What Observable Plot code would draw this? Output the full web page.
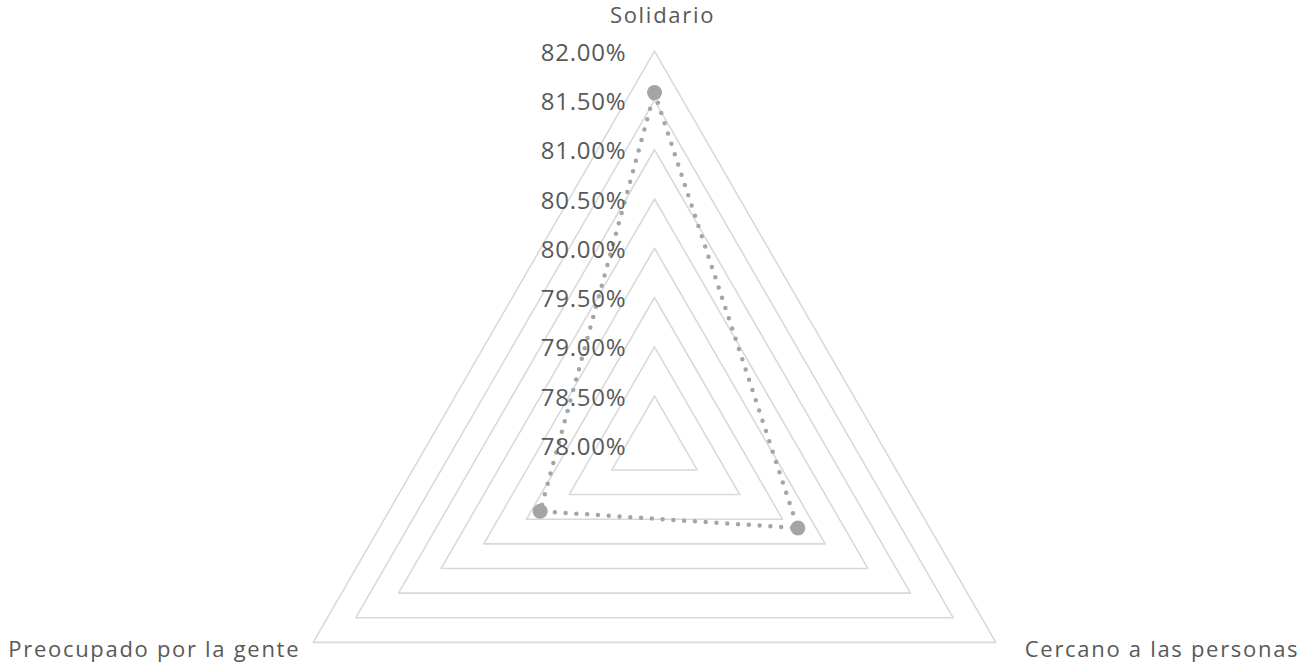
<!DOCTYPE html>
<html>
<head>
<meta charset="utf-8">
<script src="https://cdn.jsdelivr.net/npm/d3@7"></script>
<script src="https://cdn.jsdelivr.net/npm/@observablehq/plot@0.6"></script>
<style>
  html, body { margin: 0; padding: 0; background: #ffffff; }
  #chart svg { display: block; }
</style>
</head>
<body>
<div id="chart"></div>
<script>
// ---- data ----
const categories = ["Solidario", "Cercano a las personas", "Preocupado por la gente"];
const values = [81.58, 79.68, 79.34];
const tickValues = [78.0, 78.5, 79.0, 79.5, 80.0, 80.5, 81.0, 81.5, 82.0];
const tickLabels = ["78.00%", "78.50%", "79.00%", "79.50%", "80.00%", "80.50%", "81.00%", "81.50%", "82.00%"];

// ---- geometry helpers ----
const rScale = d3.scaleLinear().domain([78, 82]).range([0, 1]);
const angleOf = i => (i * 2 * Math.PI) / categories.length; // clockwise from top
const px = (v, i) => rScale(v) * Math.sin(angleOf(i));
const py = (v, i) => rScale(v) * Math.cos(angleOf(i));

// grid polygons (closed)
const grid = [];
tickValues.slice(1).forEach(t => {
  for (let k = 0; k <= categories.length; k++) {
    const i = k % categories.length;
    grid.push({level: t, x: px(t, i), y: py(t, i)});
  }
});

// series polygon (closed)
const series = [];
for (let k = 0; k <= categories.length; k++) {
  const i = k % categories.length;
  series.push({x: px(values[i], i), y: py(values[i], i)});
}
const points = categories.map((c, i) => ({cat: c, x: px(values[i], i), y: py(values[i], i)}));

const ticksData = tickValues.map((t, i) => ({label: tickLabels[i], x: 0, y: rScale(t)}));

// category label placement (layout, not data)
const catLayout = {
  "Solidario": {anchor: "middle", dx: 8, dy: -35},
  "Cercano a las personas": {anchor: "start", dx: 29, dy: 8},
  "Preocupado por la gente": {anchor: "end", dx: -13, dy: 8}
};
const catData = categories.map((c, i) => ({cat: c, x: px(82, i), y: py(82, i)}));

const cx = 654, cy = 444.8, R = 394.1;
const textColor = "#595959";
const font = "'Open Sans', sans-serif";

const marks = [
  Plot.line(grid, {x: "x", y: "y", z: "level", stroke: "#d9d9d9", strokeWidth: 1.6}),
  Plot.line(series, {x: "x", y: "y", stroke: "#a5a5a5", strokeWidth: 4.5, strokeDasharray: "0 10.8", strokeLinecap: "round"}),
  Plot.dot(points, {x: "x", y: "y", r: 7.5, fill: "#a5a5a5", stroke: "none"}),
  Plot.text(ticksData, {x: "x", y: "y", text: "label", textAnchor: "end", dx: -28, dy: 2, fontSize: 24, fill: textColor})
];
categories.forEach(c => {
  const L = catLayout[c];
  marks.push(Plot.text(catData.filter(d => d.cat === c), {x: "x", y: "y", text: "cat", textAnchor: L.anchor, dx: L.dx, dy: L.dy, fontSize: 22, fill: textColor}));
});

const chart = Plot.plot({
  width: 1307,
  height: 663,
  margin: 0,
  style: {fontFamily: font, background: "#ffffff", overflow: "visible"},
  x: {domain: [-1, 1], range: [cx - R, cx + R], axis: null},
  y: {domain: [-1, 1], range: [cy + R, cy - R], axis: null},
  marks
});
// letter spacing to approximate the wide original typeface
d3.select(chart).selectAll("text").each(function() {
  const t = this.textContent;
  if (tickLabels.includes(t)) this.setAttribute("letter-spacing", "0.8px");
  else if (categories.includes(t)) this.setAttribute("letter-spacing", "1.7px");
});
document.getElementById("chart").appendChild(chart);
</script>
</body>
</html>
